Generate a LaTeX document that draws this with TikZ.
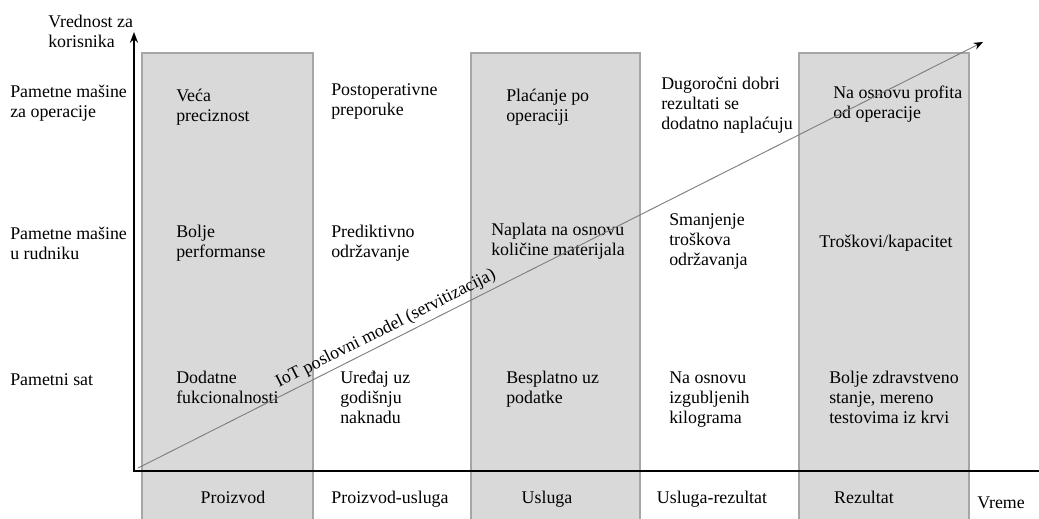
\documentclass[tikz,border=0pt]{standalone}
\usepackage{fontspec}
\setmainfont{Liberation Serif}
\usetikzlibrary{arrows.meta}
\definecolor{bandfill}{HTML}{D9D9D9}
\definecolor{bandedge}{HTML}{A6A6A6}
\definecolor{trendline}{HTML}{7F7F7F}
\begin{document}
\begin{tikzpicture}[x=0.75pt,y=-0.75pt,
  % multi-line texts are anchored at the baseline of their last line
  txt/.style={font=\fontsize{13.4}{15}\selectfont, align=left, anchor=base west, inner sep=0pt},
  cat/.style={font=\fontsize{13.4}{15}\selectfont, anchor=base, inner sep=0pt},
  band/.style={fill=bandfill, draw=bandedge, line width=0.8pt},
  axis/.style={line width=1.8pt, black},
  trend/.style={draw=trendline, line width=0.7pt, -{Stealth[length=7pt,width=5.5pt,color=black]}}
]
\useasboundingbox (0,0) rectangle (1039,518);
\fill[white] (0,0) rectangle (1039,518);

% shaded stages
\draw[band] (142,53) rectangle (313,522);
\draw[band] (471,53) rectangle (640,522);
\draw[band] (799,53) rectangle (969,522);

% axes
\coordinate (O) at (134,471);
\coordinate (ytop) at (134,32);
\coordinate (xend) at (1042,471);
\draw[axis, -{Stealth[length=8pt,width=6pt]}] (134,472) -- (ytop);
\draw[axis] (133,471) -- (xend);

% axis titles
\node[txt] (ytitle) at (48,47) {Vrednost za\\korisnika};
\node[txt] (xtitle) at (977,508) {Vreme};

% application rows
\node[txt] (r1) at (10,117) {Pametne mašine\\za operacije};
\node[txt] (r2) at (10,259) {Pametne mašine\\u rudniku};
\node[txt] (r3) at (10,385) {Pametni sat};

% stage names
\node[cat] (s1) at (233,503) {Proizvod};
\node[cat] (s2) at (390,503) {Proizvod-usluga};
\node[cat] (s3) at (547,503) {Usluga};
\node[cat] (s4) at (712,503) {Usluga-rezultat};
\node[cat] (s5) at (864,503) {Rezultat};

% stage: product
\node[txt] (a1) at (176,121) {Veća\\preciznost};
\node[txt] (a2) at (176,257) {Bolje\\performanse};
\node[txt] (a3) at (176,403) {Dodatne\\fukcionalnosti};

% stage: product-service
\node[txt] (b1) at (331,115) {Postoperativne\\preporuke};
\node[txt] (b2) at (331,257) {Prediktivno\\održavanje};
\node[txt] (b3) at (340,423) {Uređaj uz\\godišnju\\naknadu};

% stage: service
\node[txt] (c1) at (506,121) {Plaćanje po\\operaciji};
\node[txt] (c2) at (491,255) {Naplata na osnovu\\količine materijala};
\node[txt] (c3) at (506,403) {Besplatno uz\\podatke};

% stage: service-result
\node[txt] (d1) at (661,129) {Dugoročni dobri\\rezultati se\\dodatno naplaćuju};
\node[txt] (d2) at (669,265) {Smanjenje\\troškova\\održavanja};
\node[txt] (d3) at (669,423) {Na osnovu\\izgubljenih\\kilograma};

% stage: result
\node[txt] (e1) at (833,118) {Na osnovu profita\\od operacije};
\node[txt] (e2) at (819,247) {Troškovi/kapacitet};
\node[txt] (e3) at (829,423) {Bolje zdravstveno\\stanje, mereno\\testovima iz krvi};

% servitization trend
\coordinate (t0) at (138,468);
\coordinate (t1) at (983,42);
\draw[trend] (t0) -- (t1)
  node[pos=0.30, sloped, above, inner sep=3pt, font=\fontsize{13.4}{15}\selectfont] (trendlbl) {IoT poslovni model (servitizacija)};
\end{tikzpicture}
\end{document}
